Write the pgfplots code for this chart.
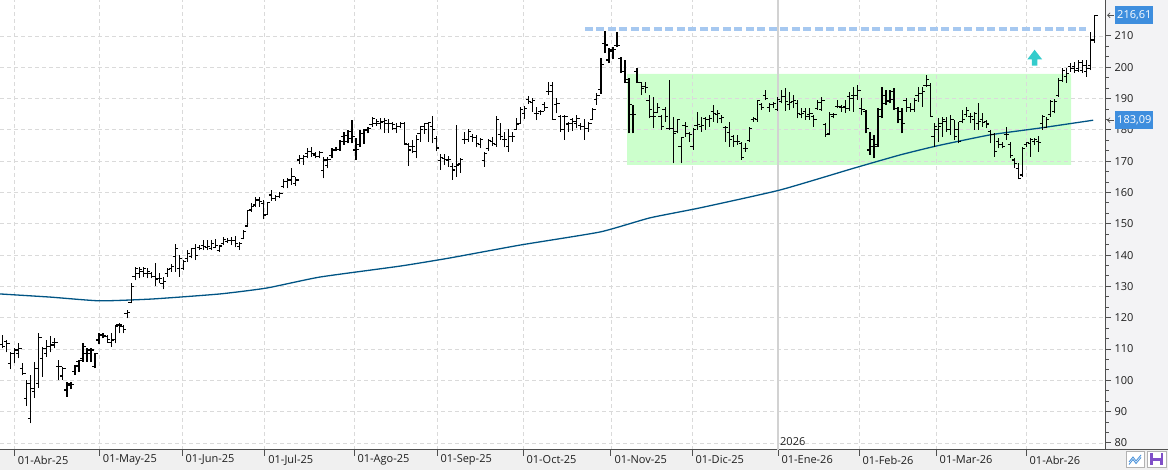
\documentclass[border=0pt]{standalone}
\usepackage{pgfplots}
\pgfplotsset{compat=1.18}
\usepackage{pgfplotstable}
\usepackage{fontspec}
\setmainfont{Open Sans}
\definecolor{mac}{RGB}{0,84,132}
\definecolor{boxgreen}{RGB}{204,255,204}
\definecolor{dashblue}{RGB}{166,200,240}
\definecolor{arrowc}{RGB}{51,204,204}
\definecolor{lblblue}{RGB}{62,142,222}
\definecolor{gridc}{RGB}{218,218,218}
\definecolor{panelr}{RGB}{243,243,245}
\definecolor{panelb}{RGB}{240,240,240}
\definecolor{axc}{RGB}{80,80,80}
\definecolor{sepc}{RGB}{210,210,210}
\definecolor{txtc}{RGB}{30,30,30}
\definecolor{iconb}{RGB}{80,150,220}
\definecolor{iconp}{RGB}{128,80,200}

\pgfdeclareplotmark{otick}{\pgfpathmoveto{\pgfpoint{-2.8pt}{0pt}}\pgfpathlineto{\pgfpoint{0pt}{0pt}}\pgfusepathqstroke}
\pgfdeclareplotmark{ctick}{\pgfpathmoveto{\pgfpoint{0pt}{0pt}}\pgfpathlineto{\pgfpoint{2.8pt}{0pt}}\pgfusepathqstroke}
\pgfdeclareplotmark{nomark}{}

\newcommand\lblfont{\fontsize{11}{13}\selectfont}

\pgfplotstableread{
o h l c
111.5 114.5 110.2 110.8
112.4 112.9 108.9 111.8
105.4 109.2 103.5 108.6
108.6 110.2 105.4 109.7
108.6 111.8 107.0 110.2
103.8 105.4 101.7 102.2
94.3 100.1 91.8 99.0
87.9 101.7 86.3 97.5
96.4 106.0 94.3 103.8
99.0 115.0 97.5 113.7
107.0 110.8 101.2 110.2
108.6 112.9 107.6 110.8
110.8 114.2 108.9 111.3
112.0 113.4 110.2 112.0
104.4 106.5 100.1 104.4
101.4 104.4 100.1 103.8
96.9 99.6 94.8 99.0
98.5 99.6 97.1 98.8
102.8 104.9 101.7 104.6
106.0 106.5 102.8 106.3
107.0 111.8 106.0 110.8
108.6 110.2 106.0 109.7
108.6 110.2 106.0 109.7
104.4 108.6 103.8 108.6
112.9 115.0 111.5 114.5
114.5 115.0 113.4 114.2
114.0 114.5 112.0 113.1
112.0 115.0 110.8 112.9
113.1 117.7 111.8 117.2
117.7 118.4 115.0 117.7
117.2 117.7 115.0 116.3
121.4 122.5 119.8 121.6
125.0 131.0 124.6 130.0
133.1 136.1 131.9 135.8
134.2 136.3 132.6 135.5
134.7 136.3 133.1 135.8
134.2 135.8 132.6 134.7
134.2 134.7 132.6 133.1
133.1 137.4 130.1 132.1
132.6 134.2 131.0 132.6
131.0 133.1 129.1 131.5
134.2 135.8 133.1 135.3
135.8 137.2 134.7 136.3
139.5 143.6 134.7 142.2
135.8 140.0 133.1 139.0
135.8 138.4 135.3 137.9
139.0 141.6 137.9 140.6
139.5 142.2 139.0 142.2
142.2 143.6 138.4 140.0
142.5 143.2 141.6 142.2
143.2 144.8 141.6 142.7
142.5 144.8 141.6 142.7
142.2 144.8 141.6 143.8
142.5 145.0 142.2 143.2
141.6 143.2 141.1 142.9
143.8 145.9 143.2 145.0
144.3 145.4 143.8 144.8
144.8 145.7 143.2 144.6
144.8 146.1 142.5 143.8
142.7 144.3 141.6 143.6
145.4 148.0 145.0 147.5
149.3 154.4 149.1 154.2
154.4 156.5 153.9 155.5
156.0 158.5 155.5 157.6
157.6 158.5 155.5 157.1
156.5 157.6 151.4 152.8
153.1 157.1 152.8 156.8
159.2 160.8 157.4 158.1
158.1 159.2 157.4 158.7
158.7 160.3 158.1 159.7
161.9 164.2 161.3 163.5
163.5 164.5 161.3 164.0
164.0 167.7 162.4 165.1
162.9 165.1 162.1 164.0
170.4 172.0 169.1 170.9
170.9 172.0 168.8 171.4
172.5 174.1 170.9 173.0
173.0 174.4 171.4 172.5
172.0 173.0 170.9 171.4
171.5 173.1 170.9 172.7
167.0 171.2 164.5 170.4
168.5 171.2 167.7 170.6
171.7 174.1 170.9 173.6
173.4 174.6 173.1 173.8
173.8 176.8 173.4 176.2
177.8 179.4 175.2 178.1
176.2 180.0 175.7 179.4
177.3 183.2 175.7 177.8
173.6 177.3 170.4 173.8
175.2 180.0 174.6 178.9
178.9 180.2 175.5 179.8
180.0 181.0 178.9 180.5
181.6 184.0 181.0 183.7
182.1 183.4 181.2 182.6
182.1 183.7 180.2 182.3
182.6 183.7 179.1 183.0
182.1 183.4 179.1 182.1
182.1 182.6 180.0 181.6
180.5 182.1 179.1 181.0
181.0 182.6 180.5 182.1
182.1 182.6 175.2 175.7
175.2 175.7 168.5 173.6
174.6 176.8 172.5 174.6
173.1 178.4 170.9 176.8
178.9 181.2 176.2 180.0
181.0 182.1 178.7 180.2
182.1 182.6 176.2 182.3
181.0 184.4 175.7 180.0
177.3 178.0 173.1 174.2
170.3 172.2 167.2 171.3
170.9 172.3 168.8 170.6
170.4 171.7 168.3 170.6
168.2 169.3 164.0 167.2
168.3 181.6 165.1 168.8
169.1 170.9 166.3 170.6
176.8 179.4 175.5 177.0
176.8 180.2 176.2 179.4
177.8 178.7 176.2 177.6
177.6 178.4 174.4 175.7
175.2 177.3 174.1 176.8
170.2 173.0 168.3 172.5
174.1 177.0 173.4 176.6
176.3 177.8 174.9 175.7
175.2 184.4 174.6 183.4
178.4 182.1 176.8 178.0
176.8 179.4 174.4 177.0
174.6 180.2 173.0 177.8
177.8 179.4 176.2 178.0
180.2 183.7 180.0 181.9
182.1 187.2 181.9 186.4
185.3 187.6 183.4 186.9
189.8 190.8 188.3 189.0
188.7 190.1 185.8 189.5
185.3 187.2 183.1 185.3
185.8 186.4 184.8 185.8
188.0 189.0 186.1 187.2
192.2 195.4 191.1 192.2
194.3 195.4 183.2 183.2
188.0 190.1 185.3 188.3
184.2 184.8 179.4 180.0
184.4 184.8 176.8 184.2
181.9 182.6 179.4 182.1
183.2 183.7 179.8 182.6
182.1 184.8 180.5 183.7
181.3 182.1 180.0 181.0
181.0 183.4 176.8 180.5
180.5 182.6 179.4 182.1
183.4 186.9 183.2 186.6
189.8 191.7 188.0 191.1
193.0 202.9 191.5 201.0
207.6 211.7 204.5 207.1
202.3 206.1 201.3 205.5
205.0 206.6 202.5 205.8
207.0 211.4 206.6 207.0
202.9 203.4 198.1 198.6
198.6 202.3 194.9 195.1
196.0 196.5 178.9 188.0
184.8 188.0 178.9 184.8
198.6 199.7 194.9 195.1
195.1 195.4 191.1 193.3
193.8 195.4 191.7 193.5
189.5 191.1 183.7 186.6
184.2 190.6 180.5 184.2
185.5 188.5 185.3 187.2
184.2 184.8 180.0 181.2
186.6 187.4 182.6 184.2
180.5 195.9 180.0 180.5
180.5 184.2 169.3 178.9
179.4 183.4 178.9 183.2
174.6 177.8 169.3 177.6
181.3 182.6 177.8 181.0
178.9 179.4 176.2 178.4
174.6 180.5 173.6 180.0
181.3 185.8 180.0 181.6
181.0 184.2 179.4 181.3
183.7 184.2 180.0 183.2
183.2 184.8 181.0 183.7
185.8 188.0 182.6 185.3
184.8 186.4 182.1 185.3
183.7 184.8 182.1 184.0
180.8 181.3 176.2 180.7
179.1 182.6 174.6 176.8
177.8 178.4 174.6 176.2
176.2 178.4 175.2 176.2
175.7 176.2 170.4 171.2
174.1 175.7 173.0 174.1
176.6 180.8 176.2 180.5
183.4 184.2 182.6 183.7
183.2 189.6 182.6 189.3
188.0 188.5 186.4 187.2
191.1 192.7 189.6 190.1
187.2 188.5 185.8 188.0
188.0 189.0 186.9 188.5
186.4 190.4 186.1 189.8
189.0 192.7 188.5 190.8
190.6 193.3 186.1 189.0
188.0 192.2 186.4 188.7
189.0 191.1 186.9 189.5
188.5 189.6 183.7 185.1
184.8 186.9 183.7 185.1
185.8 186.9 183.2 184.2
184.8 186.9 183.2 185.1
184.2 184.8 181.0 183.4
186.9 189.6 186.4 188.7
186.6 190.4 186.1 189.5
181.6 182.1 177.8 178.4
178.9 185.8 178.4 184.8
184.2 185.3 183.7 184.8
187.6 189.6 186.9 187.6
187.2 187.9 185.8 187.2
187.4 189.6 185.5 186.9
190.8 192.2 186.1 190.1
191.1 193.8 185.8 191.1
191.1 194.3 189.6 192.5
186.9 190.1 184.8 186.4
185.8 186.4 178.9 180.5
173.6 179.4 172.0 174.6
176.8 178.4 170.9 174.6
175.2 186.9 174.6 186.6
184.2 193.8 183.7 188.5
191.1 192.7 188.0 189.0
189.5 192.7 188.5 189.8
192.2 193.3 186.4 186.9
186.9 187.4 182.1 183.2
185.8 186.9 178.9 182.1
189.5 190.1 185.8 187.2
187.2 188.5 185.8 186.6
186.4 190.1 185.8 189.5
191.1 193.8 189.0 191.7
191.7 193.8 187.4 192.2
194.3 197.5 193.8 196.2
194.3 194.9 184.2 184.4
177.8 182.1 174.6 181.0
180.0 183.7 176.2 181.0
182.1 184.2 177.8 183.2
182.6 184.2 179.4 180.0
180.0 184.8 178.4 183.2
183.2 183.2 176.8 177.8
180.0 182.6 175.7 176.2
182.6 186.4 182.1 183.2
184.8 187.2 184.2 186.1
184.2 185.3 182.1 184.2
183.2 185.8 180.0 185.3
182.1 188.5 180.0 182.6
183.2 185.3 181.0 182.3
182.6 183.2 180.5 181.9
179.4 180.0 175.7 178.4
178.4 178.9 171.4 173.0
176.2 177.3 174.1 175.2
175.2 176.2 174.1 174.8
178.4 181.0 176.8 178.4
175.2 176.2 170.9 171.7
170.4 170.9 167.7 169.3
167.7 169.3 164.2 164.5
165.6 174.6 165.1 174.1
175.2 176.2 174.6 175.9
175.7 177.3 171.4 176.8
176.2 177.3 175.2 177.0
176.2 178.0 173.0 175.9
182.1 184.8 180.0 184.2
180.8 184.2 180.5 183.2
184.8 189.6 184.2 189.0
185.8 189.8 185.3 189.0
191.1 196.5 190.6 195.9
195.9 199.7 195.4 199.1
197.0 199.7 194.9 198.1
200.2 201.3 198.6 199.7
200.2 201.8 198.1 199.1
199.7 202.3 198.6 201.5
199.1 202.3 198.1 200.7
198.6 202.3 197.0 199.7
200.5 211.3 199.1 208.7
208.5 216.7 207.7 216.61
}\ohlc

\pgfplotstableread{
x y
-0.67 127.6
11.8 126.6
24.2 125.4
37.4 126.0
54.1 127.6
65.8 129.5
79.0 133.0
99.0 136.5
111.4 139.1
128.8 143.2
148.8 147.4
161.2 151.9
173.7 155.1
193.6 160.8
211.8 167.7
223.5 172.0
232.7 174.9
245.9 178.4
258.4 180.6
271.6 183.09
}\ma

\pgfplotsset{chartgeom/.style={
  at={(0pt,20pt)}, anchor=south west,
  scale only axis, width=1105pt, height=450pt,
  xmin=-0.67, xmax=274.55, ymin=77.76, ymax=221.49}}

\begin{document}
\begin{tikzpicture}[x=1pt,y=1pt]
\useasboundingbox (0,0) rectangle (1168,470);
\fill[panelr] (1105,20) rectangle (1168,470);
\fill[panelb] (0,0) rectangle (1168,20);
% background axis: green consolidation box under the grid
\begin{axis}[chartgeom, hide axis]
\addplot[draw=none, fill=boxgreen, forget plot] coordinates {(155.5,168.8) (266.1,168.8) (266.1,197.9) (155.5,197.9) (155.5,168.8)};
\end{axis}
\begin{axis}[
  chartgeom,
  axis x line*=bottom, axis y line*=right,
  axis line style={axc, line width=1pt},
  xtick={2.9,24.1,44.7,65.3,87.5,108.2,129.6,151.5,171.7,193.1,213.3,232.5,254.9},
  xticklabels={01-Abr-25,01-May-25,01-Jun-25,01-Jul-25,01-Ago-25,01-Sep-25,01-Oct-25,01-Nov-25,01-Dic-25,01-Ene-26,01-Feb-26,01-Mar-26,01-Abr-26},
  ytick={80,90,...,210}, minor y tick num=2,
  tick align=outside, major tick length=6pt, minor tick length=3.5pt,
  tick style={axc, line width=1pt},
  grid=major,
  major grid style={gridc, line width=0.8pt, dash pattern=on 4pt off 3pt},
  xticklabel style={anchor=west, font=\lblfont, text=txtc, xshift=0pt, yshift=-4pt},
  yticklabel style={anchor=west, font=\lblfont, text=txtc},
  /pgf/number format/assume math mode=true,
  clip=false,
]
% year separator
\draw[sepc, line width=1.3pt] (axis cs:193.1,77.76) -- (axis cs:193.1,221.49);
% resistance dashed line
\addplot[dashblue, line width=3.3pt, dash pattern=on 8pt off 3.5pt, forget plot] coordinates {(145.0,212.2) (269.8,212.2)};
% up arrow
\addplot[draw=none, fill=arrowc, forget plot] coordinates {(256.3,200.5) (257.7,200.5) (257.7,202.5) (258.9,202.5) (257.0,205.6) (255.2,202.5) (256.3,202.5) (256.3,200.5)};
% moving average
\addplot[mac, line width=1.3pt, smooth, tension=0.3, forget plot] table[x=x, y=y] {\ma};
% high-low
\addplot[only marks, mark=nomark, forget plot,
  error bars/.cd, y dir=plus, y explicit, error mark=none,
  error bar style={black, line width=1.15pt}]
  table[x expr=\coordindex, y=l, y error expr=\thisrow{h}-\thisrow{l}] {\ohlc};
% open ticks
\addplot[only marks, mark=otick, mark options={black, line width=1.15pt}, forget plot]
  table[x expr=\coordindex, y=o] {\ohlc};
% close ticks
\addplot[only marks, mark=ctick, mark options={black, line width=1.15pt}, forget plot]
  table[x expr=\coordindex, y=c] {\ohlc};
% year label
\node[anchor=base west, font=\lblfont, text=txtc, inner sep=0pt] at ([xshift=2pt, yshift=4.5pt]axis cs:193.1,77.76) {2026};
% last value labels
\node[fill=lblblue, text=white, anchor=west, inner xsep=2pt, inner ysep=0pt, minimum height=18pt, font=\lblfont] at ([xshift=10pt]axis cs:274.55,216.61) {216,61};
\node[fill=lblblue, text=white, anchor=west, inner xsep=2pt, inner ysep=0pt, minimum height=18pt, font=\lblfont] at ([xshift=10pt]axis cs:274.55,183.09) {183,09};
\draw[axc, line width=0.7pt] ([xshift=2.5pt]axis cs:274.55,216.61) -- ([xshift=8.5pt]axis cs:274.55,216.61);
\draw[axc, line width=0.7pt] ([xshift=5pt, yshift=2.5pt]axis cs:274.55,216.61) -- ([xshift=2.5pt]axis cs:274.55,216.61) -- ([xshift=5pt, yshift=-2.5pt]axis cs:274.55,216.61);
\draw[axc, line width=0.7pt] ([xshift=2.5pt]axis cs:274.55,183.09) -- ([xshift=8.5pt]axis cs:274.55,183.09);
\draw[axc, line width=0.7pt] ([xshift=5pt, yshift=2.5pt]axis cs:274.55,183.09) -- ([xshift=2.5pt]axis cs:274.55,183.09) -- ([xshift=5pt, yshift=-2.5pt]axis cs:274.55,183.09);
\end{axis}
\draw[axc, line width=1pt] (1105,20) -- (1168,20);
% bottom-right buttons
\draw[gray!60, fill=white, line width=0.8pt] (1126,2.5) rectangle (1144,18.5);
\draw[iconb, line width=0.9pt] (1129,8) -- (1133,13) -- (1136,9) -- (1141,15);
\draw[iconb, line width=0.9pt] (1129,5.5) -- (1133,10.5) -- (1136,6.5) -- (1141,12.5);
\draw[gray!60, fill=white, line width=0.8pt] (1147,2.5) rectangle (1166,18.5);
\fill[iconp] (1150,5) rectangle (1163,16.5);
\fill[white] (1152.5,11.5) rectangle (1160.5,16.5);
\fill[white] (1153,5) rectangle (1160,8.5);
\end{tikzpicture}
\end{document}
